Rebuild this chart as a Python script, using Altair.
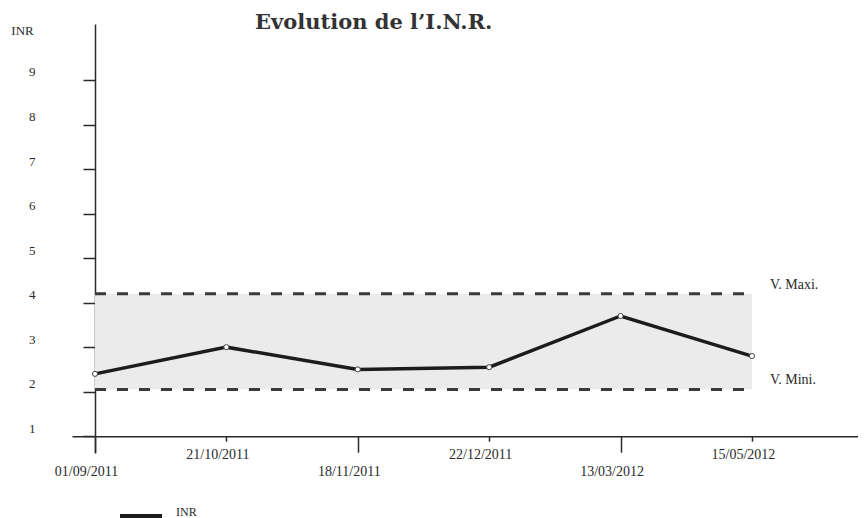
import json
import altair as alt
import pandas as pd

# ---- data ----
dates = ["01/09/2011", "21/10/2011", "18/11/2011", "22/12/2011", "13/03/2012", "15/05/2012"]
inr = [2.4, 3.0, 2.5, 2.55, 3.7, 2.8]
limit_labels = ["V. Maxi.", "V. Mini."]
limit_values = [4.2, 2.05]
y_ticks = [1, 2, 3, 4, 5, 6, 7, 8, 9]
series_name = "INR"
title_text = "Evolution de l\u2019I.N.R."

idx = list(range(len(dates)))
df = pd.DataFrame({"i": idx, "date": dates, "inr": inr, "serie": series_name})
lim = pd.DataFrame({"label": limit_labels, "value": limit_values,
                    "x0": idx[0], "x1": idx[-1]})
band = pd.DataFrame({"x0": [idx[0]], "x1": [idx[-1]],
                     "lo": [min(limit_values)], "hi": [max(limit_values)]})

SERIF = "Liberation Serif"
INK = "#2a2a2a"

xscale = alt.Scale(domain=[-0.175, 5.807], nice=False, zero=False)
yscale = alt.Scale(domain=[0.623, 10.257], nice=False, zero=False)

label_expr = json.dumps(dates) + "[datum.value]"
odd = "datum.value % 2 == 1"

xaxis = alt.Axis(
    values=idx, labelExpr=label_expr, title=None, grid=False, offset=-16.8,
    tickSize={"condition": {"test": odd, "value": 5}, "value": 16},
    labelPadding={"condition": {"test": odd, "value": 6}, "value": 12},
    labelOffset=-9, labelAngle=0, labelFont=SERIF, labelFontSize=14,
    labelColor=INK, labelOverlap=False, labelFlush=False,
    domainColor=INK, domainWidth=1.5, tickColor=INK, tickWidth=1.5,
)
yaxis = alt.Axis(
    values=y_ticks, format="d", offset=-23, tickSize=12, labelPadding=48,
    labelOffset=-8, labelFont=SERIF, labelFontSize=13, labelColor=INK,
    grid=False, domainColor=INK, domainWidth=1.5, tickColor=INK, tickWidth=1.5,
    title="INR", titleAngle=0, titleX=-73, titleY=6, titleAlign="center",
    titleBaseline="middle", titleFont=SERIF, titleFontSize=13,
    titleFontWeight="normal", titleColor=INK,
)

band_layer = alt.Chart(band).mark_rect(color="#ebebeb").encode(
    x=alt.X("x0:Q", scale=xscale, axis=xaxis),
    x2="x1",
    y=alt.Y("lo:Q", scale=yscale, axis=yaxis),
    y2="hi",
)

rules = alt.Chart(lim).mark_rule(strokeDash=[11, 11], strokeWidth=3, color="#3a3a3a").encode(
    x=alt.X("x0:Q", scale=xscale, axis=xaxis),
    x2="x1",
    y=alt.Y("value:Q", scale=yscale, axis=yaxis),
)

lim_text = alt.Chart(lim).mark_text(
    align="left", baseline="middle", dx=18, dy=-9, font=SERIF, fontSize=14, color=INK
).encode(
    x=alt.X("x1:Q", scale=xscale, axis=xaxis),
    y=alt.Y("value:Q", scale=yscale, axis=yaxis),
    text="label:N",
)

line = alt.Chart(df).mark_line(strokeWidth=3.5).encode(
    x=alt.X("i:Q", scale=xscale, axis=xaxis),
    y=alt.Y("inr:Q", scale=yscale, axis=yaxis),
    color=alt.Color(
        "serie:N",
        scale=alt.Scale(range=["#1c1c1c"]),
        legend=alt.Legend(
            title=None, orient="none", legendX=46, legendY=469,
            symbolType="stroke", symbolSize=1764, symbolStrokeWidth=4,
            labelFont=SERIF, labelFontSize=12, labelColor=INK, labelOffset=12,
            labelBaseline="alphabetic",
        ),
    ),
)

points = alt.Chart(df).mark_circle(
    size=26, fill="white", stroke="#444", strokeWidth=1, opacity=1
).encode(
    x=alt.X("i:Q", scale=xscale, axis=xaxis),
    y=alt.Y("inr:Q", scale=yscale, axis=yaxis),
)

chart = alt.layer(band_layer, rules, lim_text, line, points).properties(
    width=786,
    height=429,
    autosize=alt.AutoSizeParams(type="none"),
    padding={"left": 64, "top": 16, "right": 0, "bottom": 65},
    background="white",
    title=alt.TitleParams(
        title_text, anchor="start", frame="group", dx=183, font="DejaVu Serif",
        fontSize=21, fontWeight="bold", color="#333333", offset=0, dy=9,
    ),
).configure_view(stroke=None)

chart.save("out.html", embed_options={"renderer": "svg", "actions": False})
